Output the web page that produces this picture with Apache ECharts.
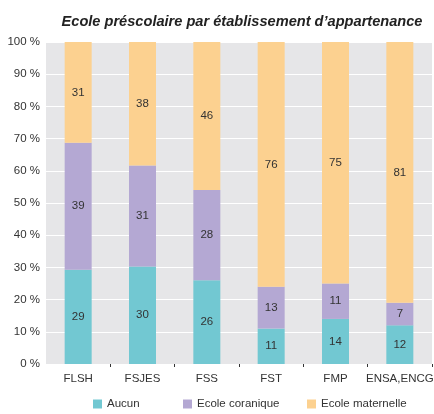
<!DOCTYPE html>
<html><head><meta charset="utf-8">
<script src="https://cdn.jsdelivr.net/npm/echarts@6/dist/echarts.min.js"></script>
<style>html,body{margin:0;padding:0;background:#fff}#c{width:434px;height:414px}</style>
</head><body><div id="c"></div>
<script>
const categories = ['FLSH','FSJES','FSS','FST','FMP','ENSA,ENCG'];
const seriesNames = ['Aucun','Ecole coranique','Ecole maternelle'];
const aucun = [29,30,26,11,14,12];
const coranique = [39,31,28,13,11,7];
const maternelle = [31,38,46,76,75,81];
const yTicks = [0,10,20,30,40,50,60,70,80,90,100];

const totals = categories.map((_,i)=>aucun[i]+coranique[i]+maternelle[i]);
function norm(arr){ return arr.map((v,i)=>({value: v*100/totals[i], raw: v})); }

const chart = echarts.init(document.getElementById('c'));
const font = 'Liberation Sans, Arial, sans-serif';
function mk(name, arr, color){
  return {
    name, type:'bar', stack:'s', barWidth:27, data:norm(arr),
    itemStyle:{color},
    label:{show:true, position:'inside', color:'#333', fontSize:11.5, fontFamily:font,
      formatter:p=>p.data.raw}
  };
}
const legendLefts = [93, 183, 307];
chart.setOption({
  animation:false,
  title:{text:'Ecole préscolaire par établissement d’appartenance', left:237, textAlign:'center', top:9,
    textStyle:{fontSize:14.6, fontWeight:'bold', fontStyle:'italic', color:'#222', fontFamily:font}},
  grid:{left:46, right:2, top:42, bottom:50, show:true, backgroundColor:'#e6e6e8', borderWidth:0,
    containLabel:false, outerBoundsMode:'none'},
  legend: seriesNames.map((n,i)=>({top:398, left:legendLefts[i], itemWidth:9, itemHeight:9, itemGap:0, icon:'rect',
    padding:0,
    textStyle:{fontSize:11.5, color:'#333', fontFamily:font},
    data:[n]})),
  xAxis:{type:'category', data:categories,
    axisLine:{show:false},
    axisTick:{show:true, length:3, interval:(i)=>i>0, lineStyle:{color:'#333'}},
    axisLabel:{color:'#333', fontSize:11.5, fontFamily:font, margin:9, interval:0}},
  yAxis:{type:'value', min:0, max:100, interval:10,
    axisLine:{show:false}, axisTick:{show:false},
    splitLine:{lineStyle:{color:'#fff', width:1}},
    axisLabel:{color:'#333', fontSize:11.5, fontFamily:font, margin:6, formatter:v=>yTicks.includes(v)? v+' %':''}},
  series:[
    mk(seriesNames[0], aucun, '#72c8d2'),
    mk(seriesNames[1], coranique, '#b4a8d3'),
    mk(seriesNames[2], maternelle, '#fcd190')
  ]
});
</script></body></html>
